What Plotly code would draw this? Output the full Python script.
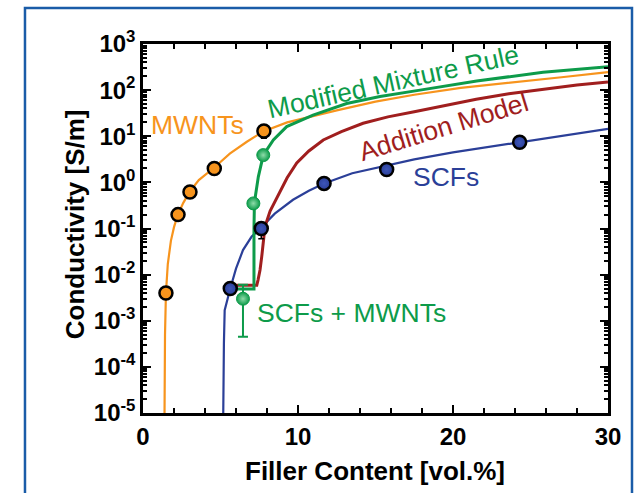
import plotly.graph_objects as go

# ---- measured data -------------------------------------------------------
mwnt_x = [1.48, 2.26, 3.03, 4.6, 7.8]
mwnt_y = [4.0e-3, 0.20, 0.62, 2.0, 13.0]
mwnt_err_minus = [0, 0, 0, 0, 4.0]

scf_x = [5.63, 7.63, 11.68, 15.72, 24.3]
scf_y = [5.0e-3, 0.10, 0.95, 1.9, 7.4]
scf_err_minus = [0.001, 0.04, 0, 0, 0]

hyb_x = [6.45, 7.12, 7.76]
hyb_y = [3.0e-3, 0.35, 3.9]
hyb_err_plus = [3.0e-3, 0, 0]
hyb_err_minus = [2.55e-3, 0, 0]

# ---- model curves --------------------------------------------------------
mwnt_fit_x = [1.37, 1.39, 1.42, 1.48, 1.6, 1.8, 2.0, 2.26, 2.6, 3.0, 3.6, 4.6,
              5.6, 6.7, 7.8, 9.3, 10.6, 12.5, 15.0, 17.5, 20.5, 23.7, 27.0, 30.0]
mwnt_fit_y = [1e-6, 3.0e-5, 5.0e-4, 4.0e-3, 1.7e-2, 5.4e-2, 0.107, 0.204, 0.36,
              0.62, 1.12, 2.1, 4.2, 7.6, 12.9, 20.0, 25.1, 36.3, 56.2, 79.4,
              112.0, 148.0, 190.0, 245.0]

scf_fit_x = [5.15, 5.18, 5.22, 5.27, 5.45, 5.63, 6.0, 6.45, 7.0, 7.63, 8.5,
             9.68, 10.7, 11.68, 13.5, 15.7, 17.5, 20.0, 22.0, 24.3, 27.0, 30.0]
scf_fit_y = [1e-6, 3.2e-5, 3.2e-4, 1.7e-3, 3.0e-3, 5.0e-3, 1.35e-2, 3.4e-2,
             6.6e-2, 0.105, 0.21, 0.42, 0.66, 0.95, 1.58, 2.34, 3.16, 4.47,
             5.62, 7.4, 10.2, 14.5]

add_x = [5.8, 7.34, 7.42, 7.55, 7.66, 7.78, 7.87, 8.2, 8.6, 8.84, 9.3, 9.92,
         10.7, 11.63, 12.8, 14.2, 15.8, 17.5, 19.5, 21.5, 23.6, 25.8, 28.0, 30.0]
add_y = [5.9e-3, 5.9e-3, 7.6e-3, 1.26e-2, 2.45e-2, 5.6e-2, 0.11, 0.24, 0.44,
         0.63, 1.26, 2.63, 4.79, 8.3, 12.6, 19.1, 26.3, 33.9, 46.8, 63.1,
         83.2, 105.0, 129.0, 151.0]

mix_x = [5.94, 7.16, 7.16, 7.18, 7.25, 7.44, 7.76, 8.1, 8.41, 9.27, 10.97,
         13.14, 15.29, 17.87, 21.53, 25.81, 30.0]
mix_y = [4.9e-3, 4.9e-3, 0.10, 0.25, 0.50, 1.32, 3.9, 6.0, 8.3, 16.2, 28.8,
         51.3, 72.4, 100.0, 158.0, 243.0, 322.0]

# ---- styling -------------------------------------------------------------
ORANGE = "#f7941d"
BLUE = "#2b3f98"
RED = "#a01e1e"
GREEN = "#0d9b4a"
FRAME = "#1a5ca8"
FONT = "Liberation Sans, Arial, sans-serif"

fig = go.Figure()

fig.add_trace(go.Scatter(x=mwnt_fit_x, y=mwnt_fit_y, mode="lines",
                         line=dict(color=ORANGE, width=2.2), hoverinfo="skip"))
fig.add_trace(go.Scatter(x=scf_fit_x, y=scf_fit_y, mode="lines",
                         line=dict(color=BLUE, width=2.2), hoverinfo="skip"))
fig.add_trace(go.Scatter(x=add_x, y=add_y, mode="lines",
                         line=dict(color=RED, width=3), hoverinfo="skip"))
fig.add_trace(go.Scatter(x=mix_x, y=mix_y, mode="lines",
                         line=dict(color=GREEN, width=3), hoverinfo="skip"))

fig.add_trace(go.Scatter(
    x=mwnt_x, y=mwnt_y, mode="markers",
    marker=dict(size=13, color=ORANGE, line=dict(color="black", width=2.5)),
    error_y=dict(type="data", symmetric=False, array=[0] * 5,
                 arrayminus=mwnt_err_minus, color="black", thickness=1.5, width=3)))
fig.add_trace(go.Scatter(
    x=scf_x, y=scf_y, mode="markers",
    marker=dict(size=13, color=BLUE, line=dict(color="black", width=2.5),
                gradient=dict(type="radial", color="#3d56b8")),
    error_y=dict(type="data", symmetric=False, array=[0] * 5,
                 arrayminus=scf_err_minus, color="black", thickness=1.5, width=3)))
fig.add_trace(go.Scatter(
    x=hyb_x, y=hyb_y, mode="markers",
    marker=dict(size=13, color=GREEN, line=dict(color=GREEN, width=1),
                gradient=dict(type="radial", color="#8fdcaa")),
    error_y=dict(type="data", symmetric=False, array=hyb_err_plus,
                 arrayminus=hyb_err_minus, color=GREEN, thickness=2, width=5)))

labels = [
    ("MWNTs", 3.52, 1.243, ORANGE, 0),
    ("SCFs + MWNTs", 13.42, -2.83, GREEN, 0),
    ("SCFs", 19.52, 0.12, BLUE, 0),
    ("Addition Model", 19.39, 1.20, RED, -17),
    ("Modified Mixture Rule", 16.1, 2.187, GREEN, -12.5),
]
for text, x, y, color, ang in labels:
    fig.add_annotation(x=x, y=y, xref="x", yref="y", text=text, showarrow=False,
                       xanchor="center", yanchor="middle", textangle=ang,
                       font=dict(family=FONT, size=26.5, color=color))

# axis titles
fig.add_annotation(x=-0.146, y=0.512, xref="paper", yref="paper",
                   xanchor="center", yanchor="middle",
                   text="Conductivity [S/m]", textangle=-90, showarrow=False,
                   font=dict(family=FONT, size=26, color="black", weight="bold"))
fig.add_annotation(x=0.499, y=-0.157, xref="paper", yref="paper",
                   xanchor="center", yanchor="middle",
                   text="Filler Content [vol.%]", showarrow=False,
                   font=dict(family=FONT, size=26, color="black", weight="bold"))

# outer blue frame
fig.add_shape(type="rect", xref="paper", yref="paper",
              x0=-0.2538, x1=1.0516, y0=-0.35, y1=1.0976,
              line=dict(color=FRAME, width=2.5), fillcolor="rgba(0,0,0,0)")

decades = list(range(-5, 4))
ytickvals = [10.0 ** d for d in decades]
yticktext = ["10<sup>%d</sup>" % d for d in decades]

axis_common = dict(showline=True, linecolor="black", linewidth=2.5,
                   ticks="inside", tickcolor="black", tickwidth=2,
                   mirror="ticks", showgrid=False, zeroline=False,
                   tickfont=dict(family=FONT, size=24, color="black", weight="bold"))

fig.update_xaxes(range=[0, 30], tickvals=[0, 10, 20, 30], ticklen=8,
                 minor=dict(dtick=2, tick0=0, ticks="inside", ticklen=5,
                            tickwidth=2, tickcolor="black"),
                 **axis_common)
fig.update_yaxes(type="log", range=[-5, 3], tickvals=ytickvals,
                 ticktext=yticktext, ticklen=8,
                 minor=dict(dtick="D1", ticks="inside", ticklen=4,
                            tickwidth=1.5, tickcolor="black"),
                 **axis_common)

fig.update_layout(width=637, height=493, showlegend=False,
                  margin=dict(l=143, r=29, t=44, b=80),
                  plot_bgcolor="white", paper_bgcolor="white")

fig.write_html("out.html")
